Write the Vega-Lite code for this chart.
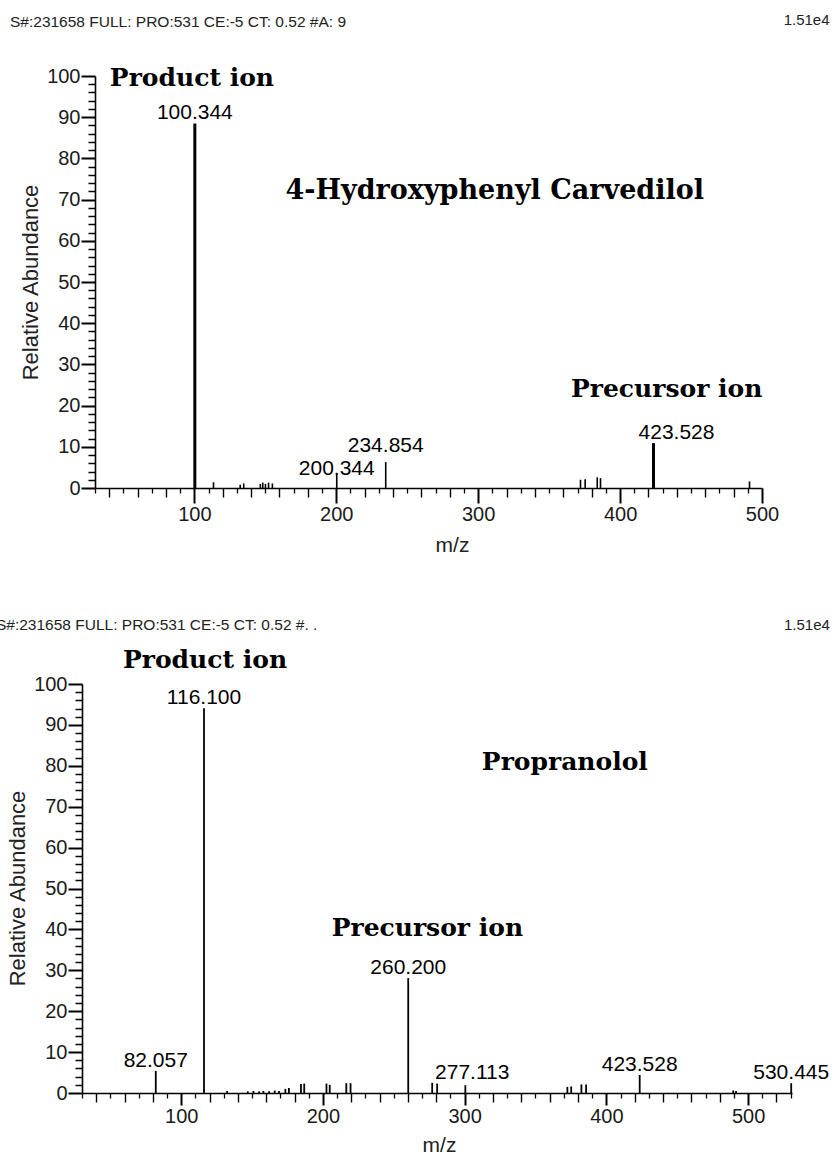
{
  "$schema": "https://vega.github.io/schema/vega-lite/v6.json",
  "width": 839,
  "height": 1155,
  "autosize": {"type": "none"},
  "padding": 0,
  "background": "white",
  "config": {
    "view": {"stroke": null},
    "axis": {
      "grid": false,
      "labelFont": "Liberation Sans",
      "labelFontSize": 20,
      "labelColor": "#1a1a1a",
      "labelOverlap": false,
      "labelFlush": false,
      "titleFont": "Liberation Sans",
      "titleFontWeight": "normal",
      "titleColor": "#222222",
      "domainColor": "black",
      "domainWidth": 1.6,
      "tickColor": "black"
    },
    "text": {"font": "Liberation Sans", "color": "black"}
  },
  "datasets": {
    "carvedilol": [
      {"mz": 100.344, "ab": 88.5, "labeled": true},
      {"mz": 113.5, "ab": 1.4, "labeled": false},
      {"mz": 132.3, "ab": 0.8, "labeled": false},
      {"mz": 134.8, "ab": 1.1, "labeled": false},
      {"mz": 146.5, "ab": 1.0, "labeled": false},
      {"mz": 148.2, "ab": 1.3, "labeled": false},
      {"mz": 150.1, "ab": 1.0, "labeled": false},
      {"mz": 152.3, "ab": 1.3, "labeled": false},
      {"mz": 155.0, "ab": 1.1, "labeled": false},
      {"mz": 200.344, "ab": 3.4, "labeled": true},
      {"mz": 234.854, "ab": 6.3, "labeled": true},
      {"mz": 372.1, "ab": 2.0, "labeled": false},
      {"mz": 375.4, "ab": 2.1, "labeled": false},
      {"mz": 383.9, "ab": 2.6, "labeled": false},
      {"mz": 386.2, "ab": 2.4, "labeled": false},
      {"mz": 423.528, "ab": 10.9, "labeled": true},
      {"mz": 491.2, "ab": 1.6, "labeled": false}
    ],
    "propranolol": [
      {"mz": 82.057, "ab": 5.4, "labeled": true},
      {"mz": 116.1, "ab": 94.1, "labeled": true},
      {"mz": 132.4, "ab": 0.5, "labeled": false},
      {"mz": 147.0, "ab": 0.4, "labeled": false},
      {"mz": 151.0, "ab": 0.5, "labeled": false},
      {"mz": 155.0, "ab": 0.4, "labeled": false},
      {"mz": 158.0, "ab": 0.5, "labeled": false},
      {"mz": 162.0, "ab": 0.4, "labeled": false},
      {"mz": 166.0, "ab": 0.6, "labeled": false},
      {"mz": 169.0, "ab": 0.5, "labeled": false},
      {"mz": 173.5, "ab": 1.0, "labeled": false},
      {"mz": 176.0, "ab": 1.2, "labeled": false},
      {"mz": 184.5, "ab": 2.2, "labeled": false},
      {"mz": 186.8, "ab": 2.3, "labeled": false},
      {"mz": 202.5, "ab": 2.3, "labeled": false},
      {"mz": 204.8, "ab": 2.0, "labeled": false},
      {"mz": 216.5, "ab": 2.4, "labeled": false},
      {"mz": 219.5, "ab": 2.4, "labeled": false},
      {"mz": 260.2, "ab": 28.1, "labeled": true},
      {"mz": 277.113, "ab": 2.5, "labeled": true},
      {"mz": 280.6, "ab": 2.3, "labeled": false},
      {"mz": 300.5, "ab": 1.9, "labeled": false},
      {"mz": 372.5, "ab": 1.5, "labeled": false},
      {"mz": 375.2, "ab": 1.6, "labeled": false},
      {"mz": 382.4, "ab": 2.1, "labeled": false},
      {"mz": 385.7, "ab": 2.1, "labeled": false},
      {"mz": 423.528, "ab": 4.4, "labeled": true},
      {"mz": 489.5, "ab": 0.6, "labeled": false},
      {"mz": 491.5, "ab": 0.5, "labeled": false},
      {"mz": 530.445, "ab": 2.4, "labeled": true}
    ]
  },
  "resolve": {
    "scale": {"x": "independent", "y": "independent"},
    "axis": {"x": "independent", "y": "independent"}
  },
  "layer": [
    {
      "data": {"name": "carvedilol"},
      "resolve": {
        "scale": {"x": "independent", "y": "independent"},
        "axis": {"x": "independent", "y": "independent"}
      },
      "layer": [
        {
          "layer": [
            {
              "mark": {"type": "rule", "color": "black"},
              "encoding": {
                "x": {
                  "field": "mz", "type": "quantitative",
                  "scale": {"domain": [30, 500], "range": [95, 762], "nice": false, "zero": false},
                  "axis": {
                    "orient": "bottom", "offset": -667, "title": "m/z", "titleFontSize": 21,
                    "titleX": 452, "titleY": 57, "titleAlign": "center", "titleBaseline": "middle", "titleAngle": 0,
                    "values": [100, 200, 300, 400, 500],
                    "tickSize": 15, "tickWidth": 2, "labelPadding": 1, "labelBaseline": "top"
                  }
                },
                "y": {
                  "field": "ab", "type": "quantitative",
                  "scale": {"domain": [0, 100], "range": [488, 76], "nice": false},
                  "axis": {
                    "orient": "left", "offset": -95, "title": "Relative Abundance", "titleFontSize": 22,
                    "titleX": -65, "titleY": 282, "titleAngle": 270, "titleAlign": "center", "titleBaseline": "middle",
                    "values": [0, 10, 20, 30, 40, 50, 60, 70, 80, 90, 100],
                    "tickSize": 14, "tickWidth": 2, "labelPadding": 1
                  }
                },
                "y2": {"datum": 0},
                "strokeWidth": {"condition": {"test": "datum.ab > 8", "value": 3}, "value": 1.6}
              }
            },
            {
              "transform": [{"filter": "datum.labeled && datum.mz !== 423.528 && datum.mz !== 234.854 && datum.mz !== 200.344"}],
              "mark": {"type": "text", "fontSize": 21, "baseline": "alphabetic", "align": "center", "dy": -4},
              "encoding": {
                "x": {"field": "mz", "type": "quantitative"},
                "y": {"field": "ab", "type": "quantitative"},
                "text": {"field": "mz", "type": "quantitative", "format": ".3f"}
              }
            },
            {
              "transform": [{"filter": "datum.mz === 200.344"}],
              "mark": {"type": "text", "fontSize": 21, "baseline": "alphabetic", "align": "center", "dy": 1},
              "encoding": {
                "x": {"field": "mz", "type": "quantitative"},
                "y": {"field": "ab", "type": "quantitative"},
                "text": {"field": "mz", "type": "quantitative", "format": ".3f"}
              }
            },
            {
              "transform": [{"filter": "datum.mz === 234.854"}],
              "mark": {"type": "text", "fontSize": 21, "baseline": "alphabetic", "align": "center", "dy": -10},
              "encoding": {
                "x": {"field": "mz", "type": "quantitative"},
                "y": {"field": "ab", "type": "quantitative"},
                "text": {"field": "mz", "type": "quantitative", "format": ".3f"}
              }
            },
            {
              "transform": [{"filter": "datum.mz === 423.528"}],
              "mark": {"type": "text", "fontSize": 21, "baseline": "alphabetic", "align": "center", "dy": -4, "dx": 23},
              "encoding": {
                "x": {"field": "mz", "type": "quantitative"},
                "y": {"field": "ab", "type": "quantitative"},
                "text": {"field": "mz", "type": "quantitative", "format": ".3f"}
              }
            },
            {
              "data": {"values": [{}]},
              "mark": {"type": "text", "font": "DejaVu Serif", "fontWeight": "bold", "fontSize": 25, "align": "center", "baseline": "middle"},
              "encoding": {
                "x": {"datum": 98.3, "type": "quantitative"},
                "y": {"datum": 99.5, "type": "quantitative"},
                "text": {"value": "Product ion"}
              }
            },
            {
              "data": {"values": [{}]},
              "mark": {"type": "text", "font": "DejaVu Serif", "fontWeight": "bold", "fontSize": 27, "align": "center", "baseline": "middle"},
              "encoding": {
                "x": {"datum": 311.7, "type": "quantitative"},
                "y": {"datum": 72, "type": "quantitative"},
                "text": {"value": "4-Hydroxyphenyl Carvedilol"}
              }
            },
            {
              "data": {"values": [{}]},
              "mark": {"type": "text", "font": "DejaVu Serif", "fontWeight": "bold", "fontSize": 25, "align": "center", "baseline": "middle"},
              "encoding": {
                "x": {"datum": 432.8, "type": "quantitative"},
                "y": {"datum": 24, "type": "quantitative"},
                "text": {"value": "Precursor ion"}
              }
            },
            {
              "data": {"values": [{}]},
              "mark": {"type": "text", "fontSize": 15.5, "align": "left", "baseline": "middle", "color": "#222222"},
              "encoding": {
                "x": {"datum": -29.9, "type": "quantitative"},
                "y": {"datum": 113, "type": "quantitative"},
                "text": {"value": "S#:231658 FULL: PRO:531 CE:-5 CT: 0.52 #A: 9"}
              }
            },
            {
              "data": {"values": [{}]},
              "mark": {"type": "text", "fontSize": 15, "align": "right", "baseline": "middle", "color": "#222222"},
              "encoding": {
                "x": {"datum": 547.6, "type": "quantitative"},
                "y": {"datum": 113.5, "type": "quantitative"},
                "text": {"value": "1.51e4"}
              }
            }
          ]
        },
        {
          "mark": {"type": "rule", "opacity": 0},
          "encoding": {
            "x": {
              "field": "mz", "type": "quantitative",
              "scale": {"domain": [30, 500], "range": [95, 762], "nice": false, "zero": false},
              "axis": {
                "orient": "bottom", "offset": -667, "title": null, "labels": false, "domain": false,
                "values": [40, 60, 80, 120, 140, 160, 180, 220, 240, 260, 280, 320, 340, 360, 380, 420, 440, 460, 480],
                "tickSize": 9, "tickWidth": 1.4
              }
            }
          }
        },
        {
          "mark": {"type": "rule", "opacity": 0},
          "encoding": {
            "x": {
              "field": "mz", "type": "quantitative",
              "scale": {"domain": [30, 500], "range": [95, 762], "nice": false, "zero": false},
              "axis": {
                "orient": "bottom", "offset": -667, "title": null, "labels": false, "domain": false,
                "values": [30, 50, 70, 90, 110, 130, 150, 170, 190, 210, 230, 250, 270, 290, 310, 330, 350, 370, 390, 410, 430, 450, 470, 490],
                "tickSize": 5, "tickWidth": 1.3
              }
            }
          }
        },
        {
          "mark": {"type": "rule", "opacity": 0},
          "encoding": {
            "y": {
              "field": "ab", "type": "quantitative",
              "scale": {"domain": [0, 100], "range": [488, 76], "nice": false},
              "axis": {
                "orient": "left", "offset": -95, "title": null, "labels": false, "domain": false,
                "values": [2, 4, 6, 8, 12, 14, 16, 18, 22, 24, 26, 28, 32, 34, 36, 38, 42, 44, 46, 48, 52, 54, 56, 58, 62, 64, 66, 68, 72, 74, 76, 78, 82, 84, 86, 88, 92, 94, 96, 98],
                "tickSize": 7, "tickWidth": 1.5
              }
            }
          }
        }
      ]
    },
    {
      "data": {"name": "propranolol"},
      "resolve": {
        "scale": {"x": "independent", "y": "independent"},
        "axis": {"x": "independent", "y": "independent"}
      },
      "layer": [
        {
          "layer": [
            {
              "mark": {"type": "rule", "color": "black", "strokeWidth": 1.8},
              "encoding": {
                "x": {
                  "field": "mz", "type": "quantitative",
                  "scale": {"domain": [30, 531], "range": [82, 792], "nice": false, "zero": false},
                  "axis": {
                    "orient": "bottom", "offset": -62, "title": "m/z", "titleFontSize": 21,
                    "titleX": 439, "titleY": 52, "titleAlign": "center", "titleBaseline": "middle", "titleAngle": 0,
                    "values": [100, 200, 300, 400, 500],
                    "tickSize": 12, "tickWidth": 2, "labelPadding": 1, "labelBaseline": "top"
                  }
                },
                "y": {
                  "field": "ab", "type": "quantitative",
                  "scale": {"domain": [0, 100], "range": [1093, 684], "nice": false},
                  "axis": {
                    "orient": "left", "offset": -82, "title": "Relative Abundance", "titleFontSize": 22,
                    "titleX": -65, "titleY": 888, "titleAngle": 270, "titleAlign": "center", "titleBaseline": "middle",
                    "values": [0, 10, 20, 30, 40, 50, 60, 70, 80, 90, 100],
                    "tickSize": 14, "tickWidth": 2, "labelPadding": 1
                  }
                },
                "y2": {"datum": 0}
              }
            },
            {
              "transform": [{"filter": "datum.labeled && datum.mz !== 277.113"}],
              "mark": {"type": "text", "fontSize": 21, "baseline": "alphabetic", "align": "center", "dy": -4},
              "encoding": {
                "x": {"field": "mz", "type": "quantitative"},
                "y": {"field": "ab", "type": "quantitative"},
                "text": {"field": "mz", "type": "quantitative", "format": ".3f"}
              }
            },
            {
              "transform": [{"filter": "datum.mz === 277.113"}],
              "mark": {"type": "text", "fontSize": 21, "baseline": "alphabetic", "align": "center", "dy": -4, "dx": 40},
              "encoding": {
                "x": {"field": "mz", "type": "quantitative"},
                "y": {"field": "ab", "type": "quantitative"},
                "text": {"field": "mz", "type": "quantitative", "format": ".3f"}
              }
            },
            {
              "data": {"values": [{}]},
              "mark": {"type": "text", "font": "DejaVu Serif", "fontWeight": "bold", "fontSize": 25, "align": "center", "baseline": "middle"},
              "encoding": {
                "x": {"datum": 116.8, "type": "quantitative"},
                "y": {"datum": 105.9, "type": "quantitative"},
                "text": {"value": "Product ion"}
              }
            },
            {
              "data": {"values": [{}]},
              "mark": {"type": "text", "font": "DejaVu Serif", "fontWeight": "bold", "fontSize": 25, "align": "center", "baseline": "middle"},
              "encoding": {
                "x": {"datum": 370.7, "type": "quantitative"},
                "y": {"datum": 81, "type": "quantitative"},
                "text": {"value": "Propranolol"}
              }
            },
            {
              "data": {"values": [{}]},
              "mark": {"type": "text", "font": "DejaVu Serif", "fontWeight": "bold", "fontSize": 25, "align": "center", "baseline": "middle"},
              "encoding": {
                "x": {"datum": 273.7, "type": "quantitative"},
                "y": {"datum": 40.3, "type": "quantitative"},
                "text": {"value": "Precursor ion"}
              }
            },
            {
              "data": {"values": [{}]},
              "mark": {"type": "text", "fontSize": 15.5, "align": "left", "baseline": "middle", "color": "#222222"},
              "encoding": {
                "x": {"datum": -30.7, "type": "quantitative"},
                "y": {"datum": 114.4, "type": "quantitative"},
                "text": {"value": "S#:231658 FULL: PRO:531 CE:-5 CT: 0.52 #. ."}
              }
            },
            {
              "data": {"values": [{}]},
              "mark": {"type": "text", "fontSize": 15, "align": "right", "baseline": "middle", "color": "#222222"},
              "encoding": {
                "x": {"datum": 557.7, "type": "quantitative"},
                "y": {"datum": 114.4, "type": "quantitative"},
                "text": {"value": "1.51e4"}
              }
            }
          ]
        },
        {
          "mark": {"type": "rule", "opacity": 0},
          "encoding": {
            "x": {
              "field": "mz", "type": "quantitative",
              "scale": {"domain": [30, 531], "range": [82, 792], "nice": false, "zero": false},
              "axis": {
                "orient": "bottom", "offset": -62, "title": null, "labels": false, "domain": false,
                "values": [40, 60, 80, 120, 140, 160, 180, 220, 240, 260, 280, 320, 340, 360, 380, 420, 440, 460, 480, 520],
                "tickSize": 9, "tickWidth": 1.4
              }
            }
          }
        },
        {
          "mark": {"type": "rule", "opacity": 0},
          "encoding": {
            "x": {
              "field": "mz", "type": "quantitative",
              "scale": {"domain": [30, 531], "range": [82, 792], "nice": false, "zero": false},
              "axis": {
                "orient": "bottom", "offset": -62, "title": null, "labels": false, "domain": false,
                "values": [30, 50, 70, 90, 110, 130, 150, 170, 190, 210, 230, 250, 270, 290, 310, 330, 350, 370, 390, 410, 430, 450, 470, 490, 510, 530],
                "tickSize": 5, "tickWidth": 1.3
              }
            }
          }
        },
        {
          "mark": {"type": "rule", "opacity": 0},
          "encoding": {
            "y": {
              "field": "ab", "type": "quantitative",
              "scale": {"domain": [0, 100], "range": [1093, 684], "nice": false},
              "axis": {
                "orient": "left", "offset": -82, "title": null, "labels": false, "domain": false,
                "values": [2, 4, 6, 8, 12, 14, 16, 18, 22, 24, 26, 28, 32, 34, 36, 38, 42, 44, 46, 48, 52, 54, 56, 58, 62, 64, 66, 68, 72, 74, 76, 78, 82, 84, 86, 88, 92, 94, 96, 98],
                "tickSize": 7, "tickWidth": 1.5
              }
            }
          }
        }
      ]
    }
  ]
}
